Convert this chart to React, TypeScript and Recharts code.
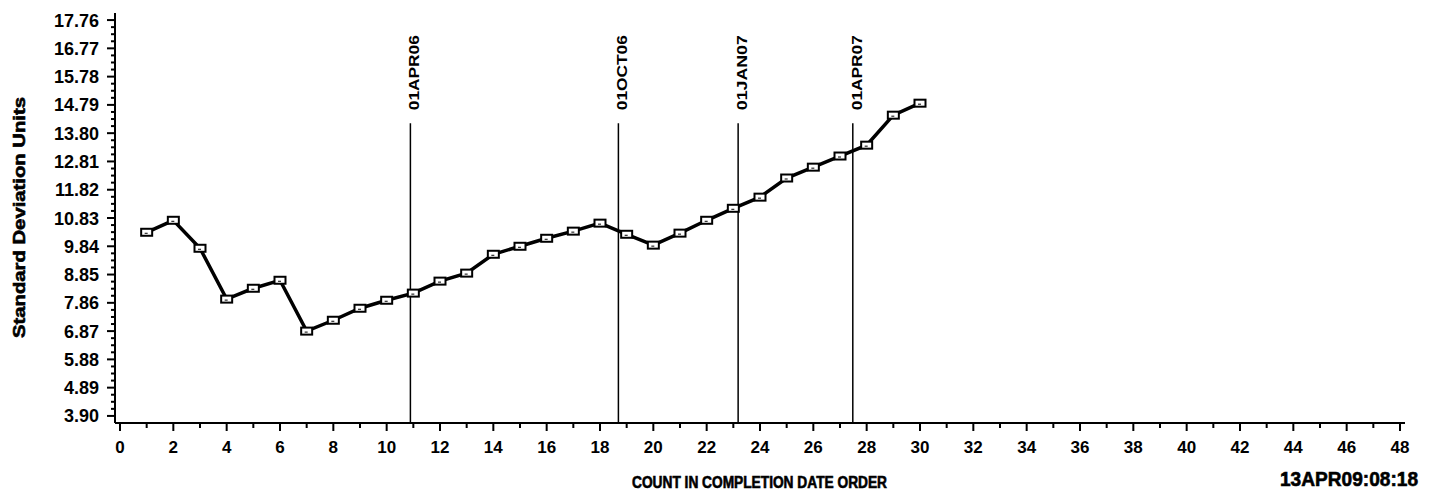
import React from "react";
import {
    LineChart,
    Line,
    XAxis,
    YAxis,
    ReferenceLine,
    ReferenceDot,
    Label,
} from "recharts";

// count in completion date order
const counts = [
    1, 2, 3, 4, 5, 6, 7, 8, 9, 10, 11, 12, 13, 14, 15, 16, 17, 18, 19, 20, 21,
    22, 23, 24, 25, 26, 27, 28, 29, 30,
];

// standard deviation units
const sdUnits = [
    10.33, 10.75, 9.77, 7.99, 8.37, 8.65, 6.87, 7.25, 7.67, 7.95, 8.2, 8.62,
    8.9, 9.56, 9.84, 10.12, 10.37, 10.65, 10.26, 9.88, 10.3, 10.75, 11.17,
    11.56, 12.23, 12.61, 13.0, 13.38, 14.43, 14.85,
];

const yTickLabels = [
    "3.90", "4.89", "5.88", "6.87", "7.86", "8.85", "9.84", "10.83", "11.82",
    "12.81", "13.80", "14.79", "15.78", "16.77", "17.76",
];

// date markers and where they fall on the count axis
const refDates = ["01APR06", "01OCT06", "01JAN07", "01APR07"];
const refCounts = [10.89, 18.69, 23.18, 27.48];
const refTop = 14.15;

const xTicks = Array.from({ length: 49 }, (_, i) => i);
const yMin = 3.9;
const yStep = 0.99;
const yMinor = yStep / 4;
const yTicks = Array.from({ length: 57 }, (_, k) => +(yMin + k * yMinor).toFixed(4));

const data = counts.map((count, i) => ({ count, sd: sdUnits[i] }));

const narrow = "'Liberation Sans Narrow', 'Arial Narrow', 'Liberation Sans', sans-serif";

function XTick({ x, y, payload }: any) {
    const v = payload.value as number;
    const major = v % 2 === 0;
    return (
        <g>
            <line x1={x} x2={x} y1={y} y2={y + (major ? 8 : 5)} stroke="#000" strokeWidth={2} />
            {major && (
                <text x={x} y={y + 30} textAnchor="middle" fontFamily={narrow} fontWeight="bold" fontSize={17} fill="#000">
                    {v}
                </text>
            )}
        </g>
    );
}

function YTick({ x, y, payload }: any) {
    const k = Math.round((payload.value - yMin) / yMinor);
    const major = k % 4 === 0;
    return (
        <g>
            <line x1={x - (major ? 8 : 4)} x2={x} y1={y} y2={y} stroke="#000" strokeWidth={2} />
            {major && (
                <text x={x - 16} y={y + 6.5} textAnchor="end" fontFamily={narrow} fontWeight="bold" fontSize={18} fill="#000">
                    {yTickLabels[k / 4]}
                </text>
            )}
        </g>
    );
}

function Marker({ cx, cy }: any) {
    if (cx == null || cy == null) return null;
    return (
        <g>
            <rect x={cx - 5.5} y={cy - 3.5} width={11} height={7} fill="#fff" stroke="#000" strokeWidth={2} />
            <line x1={cx - 2} x2={cx + 1} y1={cy + 1} y2={cy + 1} stroke="#000" strokeWidth={1} />
        </g>
    );
}

function RefLabel(text: string) {
    return ({ cx, cy }: any) => (
        <text
            transform={`translate(${cx + 9},${cy - 13}) rotate(-90)`}
            fontFamily="'Liberation Sans', Arial, sans-serif"
            fontWeight="bold"
            fontSize={15}
            textLength={75}
            lengthAdjust="spacingAndGlyphs"
            fill="#000"
        >
            {text}
        </text>
    );
}

export default function App() {
    return (
        <div style={{ position: "fixed", left: 0, top: 0, width: 1429, height: 494, background: "#fff" }}>
            <LineChart
                width={1429}
                height={494}
                data={data}
                margin={{ top: 13, right: 24, bottom: 0, left: 0 }}
            >
                <XAxis
                    type="number"
                    dataKey="count"
                    domain={[-0.1875, 48.1875]}
                    ticks={xTicks}
                    interval={0}
                    allowDataOverflow
                    height={71}
                    tickSize={0}
                    tickMargin={0}
                    tickLine={false}
                    axisLine={{ stroke: "#000", strokeWidth: 2 }}
                    tick={<XTick />}
                >
                    <Label
                        content={() => (
                            <g>
                                <text x={632} y={488} fontFamily={narrow} fontWeight="bold" fontSize={16} textLength={255} lengthAdjust="spacingAndGlyphs" fill="#000" stroke="#000" strokeWidth={0.6}>
                                    COUNT IN COMPLETION DATE ORDER
                                </text>
                                <text x={1280} y={486} fontFamily={narrow} fontWeight="bold" fontSize={20} textLength={138} lengthAdjust="spacingAndGlyphs" fill="#000" stroke="#000" strokeWidth={0.6}>
                                    13APR09:08:18
                                </text>
                            </g>
                        )}
                    />
                </XAxis>
                <YAxis
                    type="number"
                    domain={[yMin - yMinor, 17.76 + yMinor]}
                    ticks={yTicks}
                    interval={0}
                    allowDataOverflow
                    width={115}
                    tickSize={0}
                    tickMargin={0}
                    tickLine={false}
                    axisLine={{ stroke: "#000", strokeWidth: 2 }}
                    tick={<YTick />}
                >
                    <Label
                        content={() => (
                            <text
                                transform="translate(25,338) rotate(-90)"
                                fontFamily="'Liberation Sans', Arial, sans-serif"
                                fontWeight="900"
                                fontSize={16}
                                textLength={241}
                                lengthAdjust="spacingAndGlyphs"
                                fill="#000"
                                stroke="#000"
                                strokeWidth={0.6}
                            >
                                Standard Deviation Units
                            </text>
                        )}
                    />
                </YAxis>
                {refCounts.map((c, i) => (
                    <ReferenceLine
                        key={refDates[i]}
                        segment={[
                            { x: c, y: yMin - yMinor },
                            { x: c, y: refTop },
                        ]}
                        stroke="#000"
                        strokeWidth={1.5}
                        ifOverflow="visible"
                    />
                ))}
                {refCounts.map((c, i) => (
                    <ReferenceDot
                        key={"lbl" + refDates[i]}
                        x={c}
                        y={refTop}
                        r={0}
                        ifOverflow="visible"
                        shape={RefLabel(refDates[i])}
                    />
                ))}
                <Line
                    type="linear"
                    dataKey="sd"
                    stroke="#000"
                    strokeWidth={3.5}
                    dot={<Marker />}
                    activeDot={false}
                    isAnimationActive={false}
                />
            </LineChart>
        </div>
    );
}
